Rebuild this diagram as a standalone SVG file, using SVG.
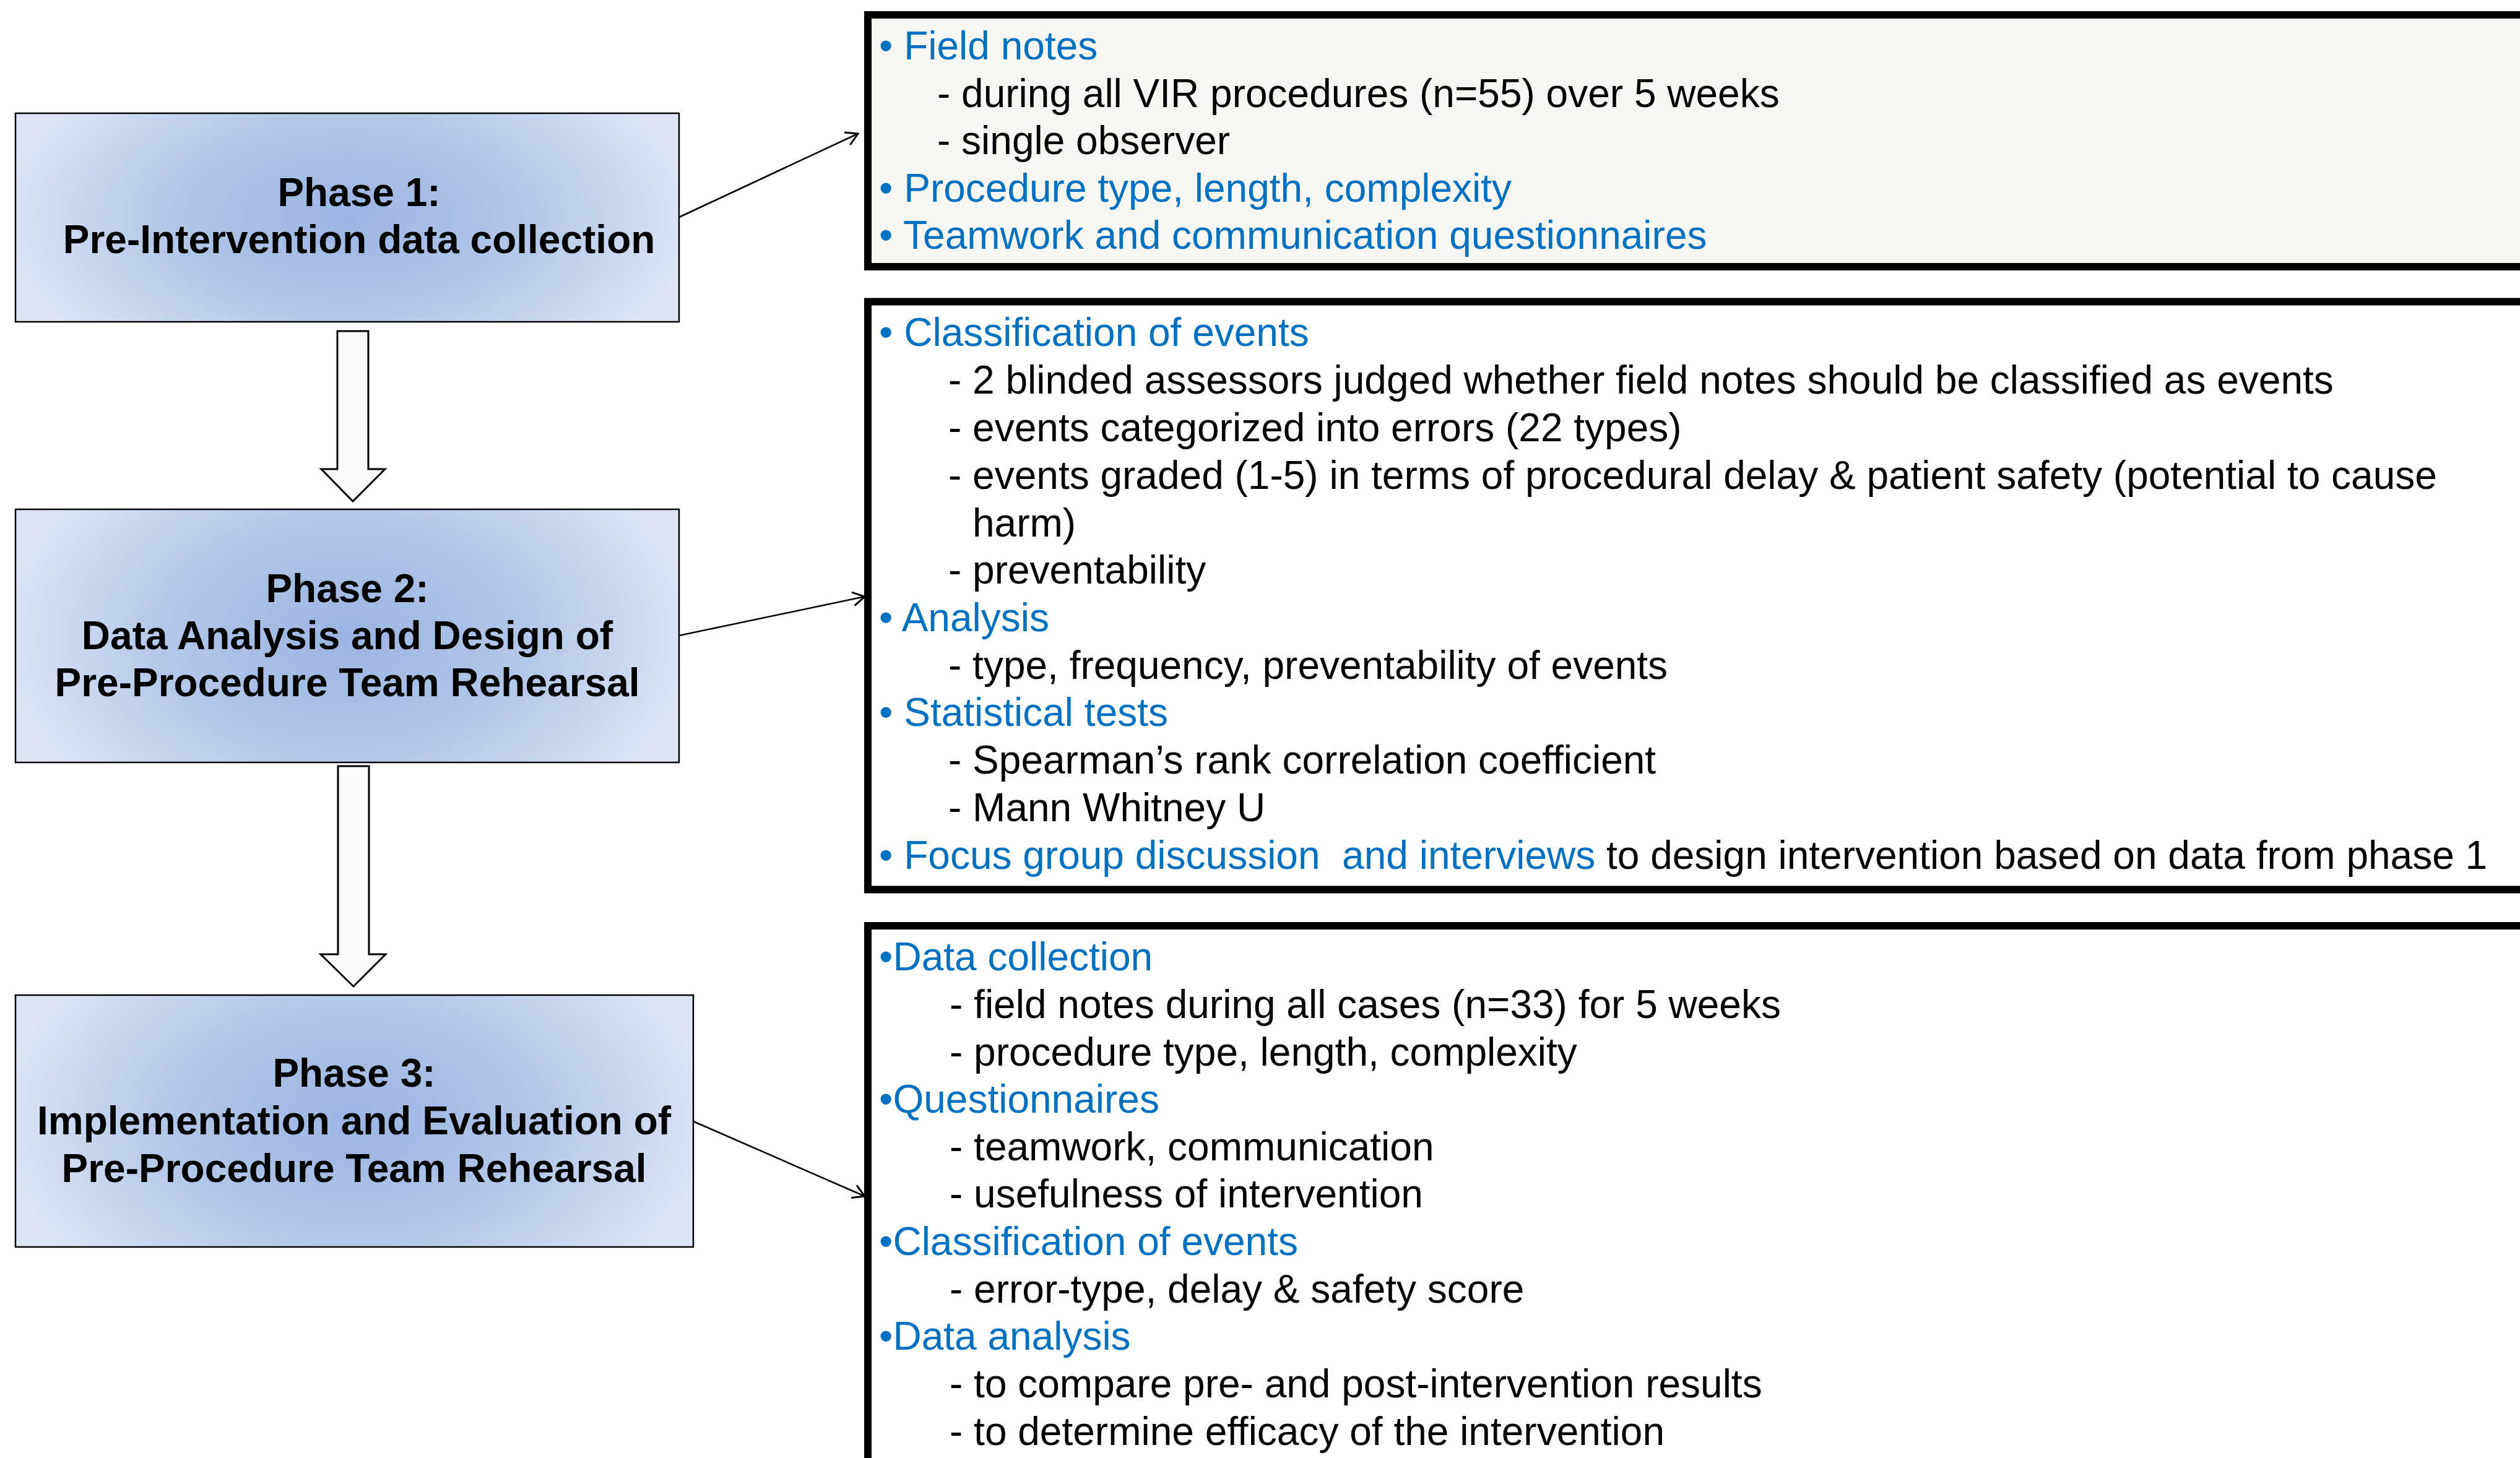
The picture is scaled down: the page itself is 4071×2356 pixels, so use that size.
<svg xmlns="http://www.w3.org/2000/svg" width="4071" height="2356" viewBox="0 0 4071 2356">
<defs>
<style>
.phase{stroke:#000;stroke-width:2.5;fill:url(#pg)}
.ptxt{font-family:"Liberation Sans",Arial,sans-serif;font-weight:bold;font-size:64px;fill:#000;text-anchor:middle}
.box{stroke:#000;stroke-width:12}
.t{font-family:"Liberation Sans",Arial,sans-serif;font-size:64px;fill:#000;white-space:pre}
.b{fill:#0070C0}
.blk{fill:#FAFAF8;stroke:#000;stroke-width:3;stroke-linejoin:miter}
.conn{stroke:#000;stroke-width:2.5;fill:none;marker-end:url(#ah)}
</style>
<radialGradient id="pg" cx="0.5" cy="0.5" r="0.5" gradientTransform="translate(0.5,0.5) scale(1.05,1.8) translate(-0.5,-0.5)">
<stop offset="0" stop-color="#9BB4E2"/>
<stop offset="0.55" stop-color="#B6C8EA"/>
<stop offset="1" stop-color="#DDE5F3"/>
</radialGradient>
<marker id="ah" markerUnits="userSpaceOnUse" markerWidth="40" markerHeight="40" refX="0" refY="0" viewBox="-30 -20 40 40" orient="auto">
<path d="M-19,-11 L0,0 L-19,11" fill="none" stroke="#000" stroke-width="3"/>
</marker>
</defs>

<g id="phase1">
<rect class="phase" x="25" y="183" width="1072" height="337"/>
<text class="ptxt" x="580" y="333">Phase 1:</text>
<text class="ptxt" x="580" y="409">Pre-Intervention data collection</text>
</g>

<g id="phase2">
<rect class="phase" x="25" y="823" width="1072" height="409"/>
<text class="ptxt" x="561" y="973">Phase 2:</text>
<text class="ptxt" x="561" y="1049">Data Analysis and Design of</text>
<text class="ptxt" x="561" y="1125">Pre-Procedure Team Rehearsal</text>
</g>

<g id="phase3">
<rect class="phase" x="25" y="1608" width="1095" height="407"/>
<text class="ptxt" x="572" y="1756">Phase 3:</text>
<text class="ptxt" x="572" y="1833">Implementation and Evaluation of</text>
<text class="ptxt" x="572" y="1910">Pre-Procedure Team Rehearsal</text>
</g>

<g id="box1">
<rect class="box" x="1402" y="24" width="2800" height="407" fill="#F7F6F3"/>
<text class="t b" x="1420" y="96">• Field notes</text>
<text class="t" x="1514" y="173">- during all VIR procedures (n=55) over 5 weeks</text>
<text class="t" x="1514" y="249">- single observer</text>
<text class="t b" x="1420" y="326">• Procedure type, length, complexity</text>
<text class="t b" x="1420" y="402">• Teamwork and communication questionnaires</text>
</g>

<g id="box2">
<rect class="box" x="1402" y="487.5" width="2800" height="950" fill="#FFFFFF"/>
<text class="t b" x="1420" y="559">• Classification of events</text>
<text class="t" x="1532" y="636">- 2 blinded assessors judged whether field notes should be classified as events</text>
<text class="t" x="1532" y="713">- events categorized into errors (22 types)</text>
<text class="t" x="1532" y="790">- events graded (1-5) in terms of procedural delay &amp; patient safety (potential to cause</text>
<text class="t" x="1571" y="867">harm)</text>
<text class="t" x="1532" y="943">- preventability</text>
<text class="t b" x="1420" y="1020">• Analysis</text>
<text class="t" x="1532" y="1097">- type, frequency, preventability of events</text>
<text class="t b" x="1420" y="1173">• Statistical tests</text>
<text class="t" x="1532" y="1250">- Spearman’s rank correlation coefficient</text>
<text class="t" x="1532" y="1327">- Mann Whitney U</text>
<text class="t" x="1420" y="1404"><tspan class="b">• Focus group discussion  and interviews</tspan> to design intervention based on data from phase 1</text>
</g>

<g id="box3">
<rect class="box" x="1402" y="1496" width="2800" height="1000" fill="#FFFFFF"/>
<text class="t b" x="1420" y="1568">•Data collection</text>
<text class="t" x="1534" y="1645">- field notes during all cases (n=33) for 5 weeks</text>
<text class="t" x="1534" y="1722">- procedure type, length, complexity</text>
<text class="t b" x="1420" y="1798">•Questionnaires</text>
<text class="t" x="1534" y="1875">- teamwork, communication</text>
<text class="t" x="1534" y="1951">- usefulness of intervention</text>
<text class="t b" x="1420" y="2028">•Classification of events</text>
<text class="t" x="1534" y="2105">- error-type, delay &amp; safety score</text>
<text class="t b" x="1420" y="2181">•Data analysis</text>
<text class="t" x="1534" y="2258">- to compare pre- and post-intervention results</text>
<text class="t" x="1534" y="2335">- to determine efficacy of the intervention</text>
</g>

<g id="connectors">
<polygon class="blk" points="545,535 595,535 595,758 622,758 570,810 519,758 545,758"/>
<polygon class="blk" points="546,1238 596,1238 596,1542 623,1542 571,1594 518,1542 546,1542"/>
<line class="conn" x1="1097" y1="351" x2="1386" y2="216"/>
<line class="conn" x1="1097" y1="1027" x2="1397" y2="964"/>
<line class="conn" x1="1120" y1="1812" x2="1397" y2="1933"/>
</g>
</svg>
